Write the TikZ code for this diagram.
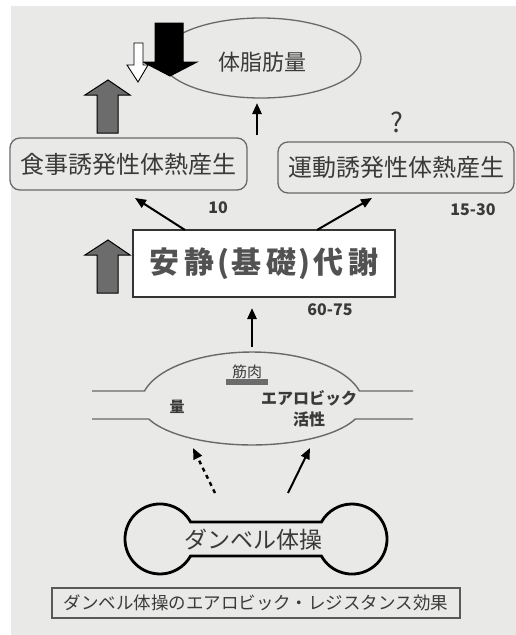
\documentclass[tikz,border=0pt]{standalone}
\usepackage{fontspec}
\newfontfamily\jp{Noto Sans CJK JP}
\usetikzlibrary{shapes.geometric,arrows.meta}
\definecolor{bg}{RGB}{233,233,231}
\definecolor{txt}{RGB}{58,58,58}
\definecolor{edge}{RGB}{105,105,105}
\definecolor{blockgray}{RGB}{108,108,108}
\newcommand{\fs}[1]{\jp\fontsize{#1}{#1}\selectfont}
\begin{document}
\begin{tikzpicture}[x=1pt,y=-1pt,
  lbl/.style={text=txt,inner sep=0pt},
  rbox/.style={draw=edge,line width=1.3pt,rounded corners=10pt,inner sep=0pt,text=txt,font=\fs{24}},
  arr/.style={-{Triangle[length=11pt,width=9pt]},line width=2pt,black},
  blockarrow/.style={draw=black,line width=1pt,line join=miter},
  tube/.style={draw=edge,line width=1.4pt}
]
\useasboundingbox (0,0) rectangle (516,635);
\fill[white] (0,0) rectangle (516,635);
\fill[bg] (11,6) rectangle (516,635);

% fat ellipse
\node[ellipse,draw=edge,line width=1.3pt,minimum width=200pt,minimum height=80pt,inner sep=0pt] (fat) at (261,58) {};
\node[lbl,font=\fs{22}] (fatlbl) at (262,62) {体脂肪量};

% block arrows
\filldraw[blockarrow,fill=black] (155,23) -- (183,23) -- (183,62) -- (197,62) -- (170,76) -- (143,62) -- (155,62) -- cycle;
\filldraw[blockarrow,fill=white,line width=0.9pt] (134,43) -- (143,43) -- (143,65) -- (148,65) -- (138,82) -- (127,65) -- (134,65) -- cycle;
\filldraw[blockarrow,fill=blockgray] (97,133) -- (97,95) -- (85,95) -- (108,80) -- (130,95) -- (118,95) -- (118,133) -- cycle;
\filldraw[blockarrow,fill=blockgray] (97,293) -- (97,255) -- (85,255) -- (108,240) -- (130,255) -- (118,255) -- (118,293) -- cycle;

% boxes
\node[rbox,minimum width=237pt,minimum height=52pt] (food) at (128.5,164) {食事誘発性体熱産生};
\node[rbox,minimum width=236pt,minimum height=51pt] (exer) at (396,167.5) {運動誘発性体熱産生};
\node[draw=black!80,line width=1.5pt,fill=white,minimum width=262pt,minimum height=67pt,inner sep=0pt,text=black!68,font=\fs{30}\bfseries] (bmr) at (264,263.5) {安\kern5pt 静\kern3pt(\kern2pt 基\kern5pt 礎\kern2pt)\kern3pt 代\kern5pt 謝};

\node[lbl,font=\fs{27}] (q) at (397,122) {?};
\node[lbl,font=\fs{16}\bfseries] (n10) at (218,208) {10};
\node[lbl,font=\fs{16}\bfseries] (n1530) at (473,210) {15-30};
\node[lbl,font=\fs{16}\bfseries] (n6075) at (330,310) {60-75};

% arrows
\coordinate (fatIn) at (257,103);
\coordinate (fatFrom) at (257,135);
\draw[arr,line width=2.6pt] (fatFrom) -- (fatIn);
\coordinate (bmrL) at (185,230);
\coordinate (foodIn) at (135,198);
\draw[arr] (bmrL) -- (foodIn);
\coordinate (bmrR) at (317,230);
\coordinate (exerIn) at (372,198);
\draw[arr] (bmrR) -- (exerIn);
\coordinate (musTop) at (252,347);
\coordinate (bmrIn) at (252,308);
\draw[arr,line width=2.6pt] (musTop) -- (bmrIn);

% muscle tube
\draw[tube] (92,391) -- (144.5,391) arc[start angle=194.5,end angle=345.5,x radius=111,y radius=52] -- (413,391);
\draw[tube] (413,419) -- (355.3,419) arc[start angle=21.5,end angle=158.5,x radius=111,y radius=41] -- (92,419);
\fill[blockgray] (226,379) rectangle (268,385);
\node[lbl,font=\fs{15}] (kin) at (247,372) {筋肉};
\node[lbl,font=\fs{15}\bfseries] (ryo) at (177,407) {量};
\node[lbl,font=\fs{16}\bfseries] (aero) at (309,398) {エアロビック};
\node[lbl,font=\fs{16}\bfseries] (kassei) at (309,419) {活性};

% dumbbell
\draw[line width=2.8pt,black] (190.6,522) arc[start angle=-29,end angle=-331,radius=35] -- (321.4,556) arc[start angle=151,end angle=-151,radius=35] -- cycle;
\node[lbl,font=\fs{23}] (db) at (253,540) {ダンベル体操};
\coordinate (dbL) at (215,493);
\coordinate (musL) at (193,448);
\draw[arr,line width=2.4pt,dash pattern=on 4pt off 4pt] (dbL) -- (musL);
\coordinate (dbR) at (288,493);
\coordinate (musR) at (310,448);
\draw[arr] (dbR) -- (musR);

% caption
\node[draw=black!65,line width=2pt,minimum width=408pt,minimum height=30pt,inner sep=0pt,text=txt,font=\fs{17.5}] (cap) at (256,603) {ダンベル体操のエアロビック・レジスタンス効果};
\end{tikzpicture}
\end{document}
